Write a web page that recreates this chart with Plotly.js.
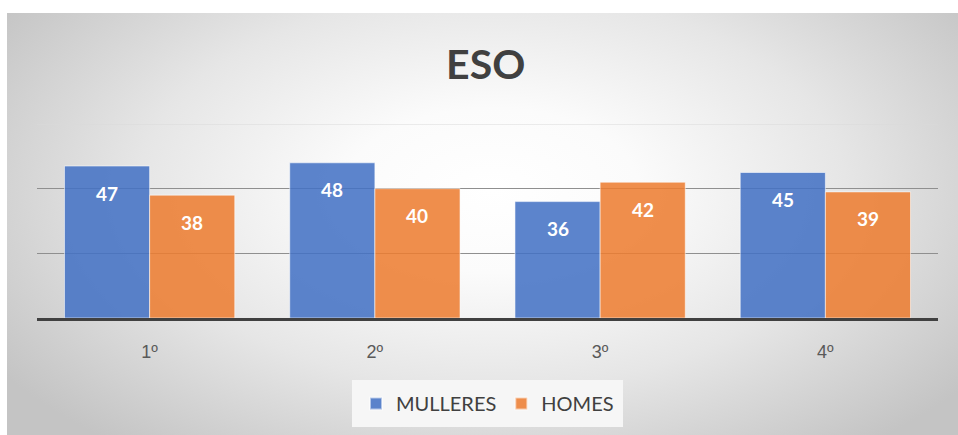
<!DOCTYPE html>
<html>
<head>
<meta charset="utf-8">
<script src="https://cdn.plot.ly/plotly-3.0.1.min.js"></script>
<style>
  html, body { margin: 0; padding: 0; background: #ffffff; }
  #wrap { position: relative; width: 958px; height: 435px; overflow: hidden; }
  #bg { position: absolute; left: 7px; top: 13px; width: 951px; height: 422px;
        background: radial-gradient(ellipse 62% 78% at 51% 42%, #ffffff 0%, #fbfbfb 25%, #e6e6e6 60%, #c4c4c4 100%); }
  #chart { position: absolute; left: 0; top: 0; width: 958px; height: 435px; }
</style>
</head>
<body>
<div id="wrap"><div id="bg"></div><div id="chart"></div></div>
<script>
const categories = ["1º", "2º", "3º", "4º"];
const mulleres = [47, 48, 36, 45];
const homes = [38, 40, 42, 39];
const seriesNames = ["MULLERES", "HOMES"];
const chartTitle = "ESO";

const FONT = "Lato, 'Open Sans', sans-serif";
const TICKFONT = "'Liberation Sans', 'DejaVu Sans', sans-serif";

const traces = [
  { type: "bar", name: seriesNames[0], x: categories, y: mulleres,
    marker: { color: "rgba(68,114,196,0.87)", line: { color: "rgba(255,255,255,0.55)", width: 1 } },
    hoverinfo: "skip" },
  { type: "bar", name: seriesNames[1], x: categories, y: homes,
    marker: { color: "rgba(237,125,49,0.87)", line: { color: "rgba(255,255,255,0.55)", width: 1 } },
    hoverinfo: "skip" }
];

const annotations = [];
categories.forEach((c, i) => {
  annotations.push({ x: c, y: mulleres[i], xref: "x", yref: "y", text: String(mulleres[i]),
    showarrow: false, xshift: -42.5, yshift: -27, yanchor: "middle",
    font: { family: FONT, size: 19, color: "#ffffff", weight: "bold" } });
  annotations.push({ x: c, y: homes[i], xref: "x", yref: "y", text: String(homes[i]),
    showarrow: false, xshift: 42.5, yshift: -27, yanchor: "middle",
    font: { family: FONT, size: 19, color: "#ffffff", weight: "bold" } });
});

const layout = {
  width: 958, height: 435,
  paper_bgcolor: "rgba(0,0,0,0)", plot_bgcolor: "rgba(0,0,0,0)",
  margin: { l: 37, r: 20, t: 124, b: 117, autoexpand: false },
  title: { text: "<b>" + chartTitle + "</b>", x: 0.507, xanchor: "center", y: 0.852, yanchor: "middle",
    font: { family: FONT, size: 41, color: "#404040" } },
  barmode: "group", bargap: 0.244, bargroupgap: 0,
  showlegend: true,
  legend: { orientation: "h", x: 0.5, xanchor: "center", y: -0.32, yanchor: "top",
    bgcolor: "#f6f6f6", bordercolor: "#f6f6f6", borderwidth: 4,
    font: { family: FONT, size: 20, color: "#404040" },
    traceorder: "normal", itemsizing: "constant" },
  xaxis: { type: "category", showgrid: false, zeroline: false, showline: true, linecolor: "#404040", linewidth: 3,
    ticks: "", ticklabelstandoff: 15, tickfont: { family: TICKFONT, size: 18, color: "#595959" }, fixedrange: true },
  yaxis: { range: [0, 60], tickvals: [20, 40], showticklabels: false, showgrid: true, gridcolor: "#8f8f8f", gridwidth: 1,
    zeroline: false, showline: false, ticks: "", fixedrange: true },
  shapes: [
    { type: "line", xref: "paper", x0: 0, x1: 1, yref: "y", y0: 60, y1: 60, layer: "below",
      line: { color: "#d9d9d9", width: 1 } }
  ],
  annotations: annotations,
  font: { family: FONT }
};

Plotly.newPlot("chart", traces, layout, { displayModeBar: false, staticPlot: true });
</script>
</body>
</html>
